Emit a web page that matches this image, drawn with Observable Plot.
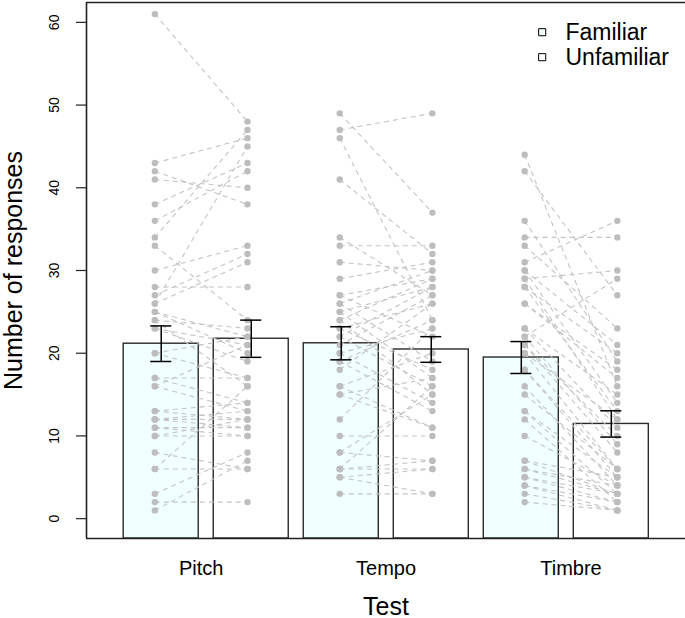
<!DOCTYPE html>
<html>
<head>
<meta charset="utf-8">
<script src="https://cdn.jsdelivr.net/npm/d3@7"></script>
<script src="https://cdn.jsdelivr.net/npm/@observablehq/plot@0.6"></script>
<style>
  html, body { margin: 0; padding: 0; background: #fff; }
  #chart svg { display: block; }
</style>
</head>
<body>
<div id="chart"></div>
<script>
// ---------- data ----------
const tests = ["Pitch", "Tempo", "Timbre"];
const conditions = ["Familiar", "Unfamiliar"];

// paired responses per participant (index i of Fam pairs with index i of Unf)
const pitchFam  = [61,43,42,41,38,36,34,33,30,28,27,26,26,25,25,24,24,23,23,20,20,17,17,16,16,13,13,12,12,12,11,11,10,10,8,6,6,3,2,1];
const pitchUnf  = [48,46,38,40,43,42,47,24,33,28,32,45,31,22,20,16,23,21,19,22,17,17,14,13,21,14,12,12,13,11,11,10,12,10,6,16,6,8,2,7];
const tempoFam  = [49,47,46,41,34,33,31,29,27,27,26,26,25,25,24,24,23,23,22,22,21,20,20,19,19,18,16,16,15,15,12,10,8,8,6,6,6,5,5,3];
const tempoUnf  = [37,49,24,32,27,33,30,31,29,22,30,19,28,17,29,15,26,18,28,16,27,23,14,24,13,26,11,20,17,11,23,10,7,15,6,16,7,6,3,3];
const timbreFam = [44,42,36,34,33,31,30,30,29,29,28,28,26,26,23,23,22,22,21,21,20,20,18,18,16,15,13,13,12,10,7,7,6,6,5,5,4,4,3,2];
const timbreUnf = [16,27,19,34,23,36,21,14,30,12,20,13,17,18,15,11,29,9,10,8,12,6,5,6,4,6,3,5,2,4,5,3,4,3,2,3,2,1,1,1];

// bar heights (means) and error-bar half widths, order: Pitch F/U, Tempo F/U, Timbre F/U
const barMeans = [21.15, 21.75, 21.2, 20.45, 19.48, 11.45];
const barSE    = [2.15, 2.25, 2.0, 1.55, 1.93, 1.59];

const yTicks = [0, 10, 20, 30, 40, 50, 60];
const xTitle = "Test";
const yTitle = "Number of responses";

// ---------- layout (R barplot-like user coordinates) ----------
const famData = [pitchFam, tempoFam, timbreFam];
const unfData = [pitchUnf, tempoUnf, timbreUnf];
const xDomain = [-0.296, 7.689];
const yDomain = [-2.4, 62.4];
const barLeft = k => 0.2 + 1.2 * k;              // width 1, space 0.2
const ptX = (t, c) => 0.615 + 2.465 * t + 1.235 * c; // point columns
const labelX = t => ptX(t, 0) + 1.235 / 2;
const fillOf = {Familiar: "#F0FFFF", Unfamiliar: "#FFFFFF"};

const bars = barMeans.map((m, k) => ({
  k, mean: m, se: barSE[k], cond: conditions[k % 2],
  x1: barLeft(k), x2: barLeft(k) + 1, xc: barLeft(k) + 0.5
}));

const pairs = [];
tests.forEach((t, ti) => {
  famData[ti].forEach((f, i) => {
    pairs.push({x1: ptX(ti, 0), y1: f, x2: ptX(ti, 1), y2: unfData[ti][i]});
  });
});
const points = pairs.flatMap(p => [{x: p.x1, y: p.y1}, {x: p.x2, y: p.y2}]);

const legendMarks = conditions.flatMap((c, i) => [
  Plot.dot([c], {frameAnchor: "top-right", dx: -143.3, dy: 29.7 + 25 * i,
    symbol: "square", r: 4, fill: fillOf[c], stroke: "black", strokeWidth: 1}),
  Plot.text([c], {frameAnchor: "top-right", dx: -120, dy: 29.9 + 25 * i,
    text: d => d, textAnchor: "start", lineAnchor: "middle", fontSize: 23, fill: "black"})
]);

const chart = Plot.plot({
  width: 685,
  height: 618,
  marginLeft: 86,
  marginRight: 0,
  marginTop: 2,
  marginBottom: 80,
  style: {fontFamily: "'Liberation Sans', Arial, Helvetica, sans-serif", background: "white", color: "black"},
  x: {type: "linear", domain: xDomain, axis: null},
  y: {type: "linear", domain: yDomain, axis: null},
  color: {type: "identity"},
  marks: [
    Plot.rect(bars, {x1: "x1", x2: "x2", y1: () => yDomain[0], y2: "mean",
      fill: d => fillOf[d.cond], stroke: "#2a2a2a", strokeWidth: 1.4}),
    Plot.link(pairs, {x1: "x1", y1: "y1", x2: "x2", y2: "y2",
      stroke: "#C4C4C4", strokeWidth: 1.1, strokeDasharray: "5,4"}),
    Plot.dot(points, {x: "x", y: "y", r: 3.2, fill: "#BDBDBD", stroke: "none"}),
    Plot.ruleX(bars, {x: "xc", y1: d => d.mean - d.se, y2: d => d.mean + d.se, stroke: "black", strokeWidth: 1.5}),
    Plot.ruleY(bars, {y: d => d.mean + d.se, x1: d => d.xc - 0.14, x2: d => d.xc + 0.14, stroke: "black", strokeWidth: 1.5}),
    Plot.ruleY(bars, {y: d => d.mean - d.se, x1: d => d.xc - 0.14, x2: d => d.xc + 0.14, stroke: "black", strokeWidth: 1.5}),
    // frame (left, top, bottom)
    Plot.ruleY(yDomain, {stroke: "#222", strokeWidth: 1.6}),
    Plot.ruleX([xDomain[0]], {stroke: "#222", strokeWidth: 1.6}),
    // y axis ticks and labels
    Plot.axisY({ticks: yTicks, tickSize: 10, tickFormat: () => "", label: null, stroke: "#222", strokeWidth: 1.2}),
    Plot.text(yTicks, {y: d => d, text: d => String(d), frameAnchor: "left", dx: -31.5,
      rotate: -90, textAnchor: "middle", lineAnchor: "middle", fontSize: 14, fill: "black"}),
    // x category labels
    Plot.text(tests, {x: (d, i) => labelX(i), text: d => d, frameAnchor: "bottom", dy: 36.5,
      textAnchor: "middle", fontSize: 20, fill: "black"}),
    // axis titles
    Plot.text([xTitle], {text: d => d, frameAnchor: "bottom", dy: 76, textAnchor: "middle", fontSize: 25, fill: "black"}),
    Plot.text([yTitle], {text: d => d, frameAnchor: "left", dx: -72.5, rotate: -90,
      textAnchor: "middle", lineAnchor: "middle", fontSize: 25, fill: "black"}),
    ...legendMarks
  ]
});

document.getElementById("chart").appendChild(chart);
</script>
</body>
</html>
